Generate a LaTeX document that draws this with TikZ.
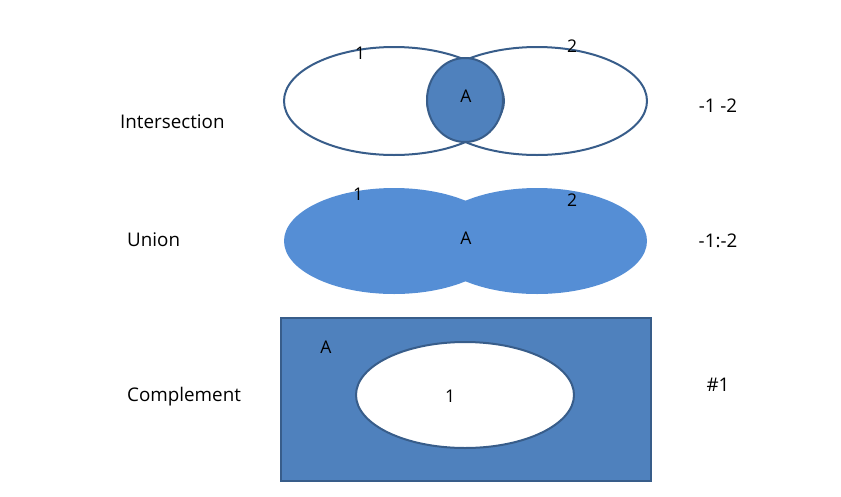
\documentclass[tikz,border=0pt]{standalone}
\usepackage{fontspec}
\setmainfont{Open Sans}
\definecolor{darkfill}{RGB}{79,129,189}
\definecolor{darkline}{RGB}{56,93,138}
\definecolor{lightfill}{RGB}{85,142,213}
\begin{document}
\begin{tikzpicture}[x=1pt,y=-1pt,
  lbl/.style={font=\fontsize{18.8}{22}\selectfont, inner sep=0pt},
  sm/.style={font=\fontsize{17.5}{20}\selectfont, inner sep=0pt},
  outl/.style={draw=darkline, line width=2pt}]
\useasboundingbox (0,0) rectangle (841,496);
% Intersection
\draw[outl, fill=white] (394,101) ellipse [x radius=110, y radius=54];
\draw[outl] (537,101) ellipse [x radius=110, y radius=54];
\draw[outl, fill=darkfill] (465,100) ellipse [x radius=38, y radius=42];
\node[sm] (i1) at (360,53) {1};
\node[sm] (i2) at (572,46) {2};
\node[sm] (iA) at (466,96) {A};
% Union
\fill[lightfill] (394,241) ellipse [x radius=110, y radius=53];
\fill[lightfill] (537,241) ellipse [x radius=110, y radius=53];
\node[sm] (u1) at (358,194) {1};
\node[sm] (u2) at (572,200) {2};
\node[sm] (uA) at (466,238) {A};
% Complement
\draw[outl, fill=darkfill] (281,318) rectangle (651,481);
\draw[outl, fill=white] (465,395) ellipse [x radius=109, y radius=53];
\node[sm] (cA) at (326,347) {A};
\node[sm] (c1) at (450,396) {1};
% Left labels
\node[lbl, anchor=west] (t1) at (120,122) {Intersection};
\node[lbl, anchor=west] (t2) at (127,240) {Union};
\node[lbl, anchor=west] (t3) at (127,397) {Complement};
% Right labels
\node[lbl] (r1) at (718,106) {-1 -2};
\node[lbl] (r2) at (718,241) {-1:-2};
\node[lbl] (r3) at (718,385) {\#1};
\end{tikzpicture}
\end{document}
